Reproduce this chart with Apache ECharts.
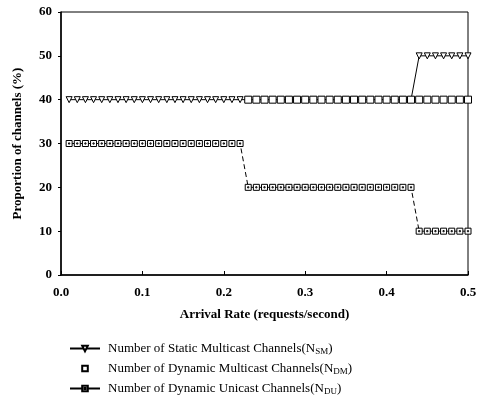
<!DOCTYPE html>
<html>
<head>
<meta charset="utf-8">
<script src="https://cdn.jsdelivr.net/npm/echarts@6/dist/echarts.min.js"></script>
<style>
  html, body { margin: 0; padding: 0; background: #fff; }
  #chart { width: 483px; height: 399px; }
</style>
</head>
<body>
<div id="chart"></div>
<script>
// arrival rate (requests/second)
const rates = [
  0.01, 0.02, 0.03, 0.04, 0.05, 0.06, 0.07, 0.08, 0.09, 0.10,
  0.11, 0.12, 0.13, 0.14, 0.15, 0.16, 0.17, 0.18, 0.19, 0.20,
  0.21, 0.22, 0.23, 0.24, 0.25, 0.26, 0.27, 0.28, 0.29, 0.30,
  0.31, 0.32, 0.33, 0.34, 0.35, 0.36, 0.37, 0.38, 0.39, 0.40,
  0.41, 0.42, 0.43, 0.44, 0.45, 0.46, 0.47, 0.48, 0.49, 0.50
];

// static multicast channels (%)
const staticMulticast = [
  40, 40, 40, 40, 40, 40, 40, 40, 40, 40,
  40, 40, 40, 40, 40, 40, 40, 40, 40, 40,
  40, 40, 40, 40, 40, 40, 40, 40, 40, 40,
  40, 40, 40, 40, 40, 40, 40, 40, 40, 40,
  40, 40, 40, 50, 50, 50, 50, 50, 50, 50
];

// dynamic multicast channels (%) - only drawn from 0.23 on
const dynamicMulticast = [
  null, null, null, null, null, null, null, null, null, null,
  null, null, null, null, null, null, null, null, null, null,
  null, null, 40, 40, 40, 40, 40, 40, 40, 40,
  40, 40, 40, 40, 40, 40, 40, 40, 40, 40,
  40, 40, 40, 40, 40, 40, 40, 40, 40, 40
];

// dynamic unicast channels (%)
const dynamicUnicast = [
  30, 30, 30, 30, 30, 30, 30, 30, 30, 30,
  30, 30, 30, 30, 30, 30, 30, 30, 30, 30,
  30, 30, 20, 20, 20, 20, 20, 20, 20, 20,
  20, 20, 20, 20, 20, 20, 20, 20, 20, 20,
  20, 20, 20, 10, 10, 10, 10, 10, 10, 10
];

const yTicks = [0, 10, 20, 30, 40, 50, 60];
const xTicks = [0.0, 0.1, 0.2, 0.3, 0.4, 0.5];

const seriesNames = ['sm', 'dm', 'du'];
const legendText = {
  sm: 'Number of Static Multicast Channels(N{sub|SM})',
  dm: 'Number of Dynamic Multicast Channels(N{sub|DM})',
  du: 'Number of Dynamic Unicast Channels(N{sub|DU})'
};

const pair = arr => rates.map((r, i) => [r, arr[i]]);
const font = '"Liberation Serif", "DejaVu Serif", serif';
const squareDot = 'path://M0,0H10V10H0Z M4,4H6V6H4Z';

const chart = echarts.init(document.getElementById('chart'));
chart.setOption({
  animation: false,
  grid: {
    left: 61, right: 15, top: 12, bottom: 124,
    show: true, borderColor: '#000', borderWidth: 1
  },
  legend: {
    orient: 'vertical',
    left: 69, top: 342, padding: 0,
    itemWidth: 30, itemHeight: 7, itemGap: 6,
    data: [
      { name: 'sm' },
      { name: 'dm' },
      { name: 'du', lineStyle: { type: 'solid' } }
    ],
    formatter: name => legendText[name],
    textStyle: {
      fontFamily: font, fontSize: 13, color: '#000', padding: [0, 0, 0, 3],
      rich: { sub: { fontFamily: font, fontSize: 9, color: '#000', padding: [6, 0, 0, 0] } }
    }
  },
  xAxis: {
    type: 'value', min: 0, max: 0.5, interval: 0.1,
    name: 'Arrival Rate (requests/second)',
    nameLocation: 'middle', nameGap: 33,
    nameTextStyle: { fontFamily: font, fontSize: 13, fontWeight: 'bold', color: '#000' },
    axisLine: { lineStyle: { color: '#000', width: 1.5 } },
    axisTick: { inside: true, length: 4, lineStyle: { color: '#000' } },
    splitLine: { show: false },
    axisLabel: {
      fontFamily: font, fontSize: 13, fontWeight: 'bold', color: '#000', margin: 11,
      formatter: v => xTicks.includes(+v.toFixed(1)) ? v.toFixed(1) : ''
    }
  },
  yAxis: {
    type: 'value', min: 0, max: 60, interval: 10,
    name: 'Proportion of channels (%)',
    nameLocation: 'middle', nameGap: 37,
    nameTextStyle: { fontFamily: font, fontSize: 13, fontWeight: 'bold', color: '#000' },
    axisLine: { show: true, lineStyle: { color: '#000', width: 1.5 } },
    axisTick: { show: true, length: 3, lineStyle: { color: '#000' } },
    splitLine: { show: false },
    axisLabel: {
      fontFamily: font, fontSize: 13, fontWeight: 'bold', color: '#000', margin: 9,
      formatter: v => yTicks.includes(v) ? String(v) : ''
    }
  },
  series: [
    {
      name: 'sm', type: 'line', data: pair(staticMulticast), z: 2,
      symbol: 'triangle', symbolRotate: 180, symbolSize: 6,
      lineStyle: { color: '#000', width: 1 },
      itemStyle: { color: '#fff', borderColor: '#000', borderWidth: 1 }
    },
    {
      name: 'dm', type: 'line', data: pair(dynamicMulticast), z: 3,
      symbol: 'rect', symbolSize: 7,
      lineStyle: { width: 0, opacity: 0 },
      itemStyle: { color: '#fff', borderColor: '#000', borderWidth: 1 }
    },
    {
      name: 'du', type: 'line', data: pair(dynamicUnicast), z: 2,
      symbol: squareDot, symbolSize: 6,
      lineStyle: { color: '#000', width: 1, type: [5, 3] },
      itemStyle: { color: '#fff', borderColor: '#000', borderWidth: 1 }
    }
  ]
});
</script>
</body>
</html>
